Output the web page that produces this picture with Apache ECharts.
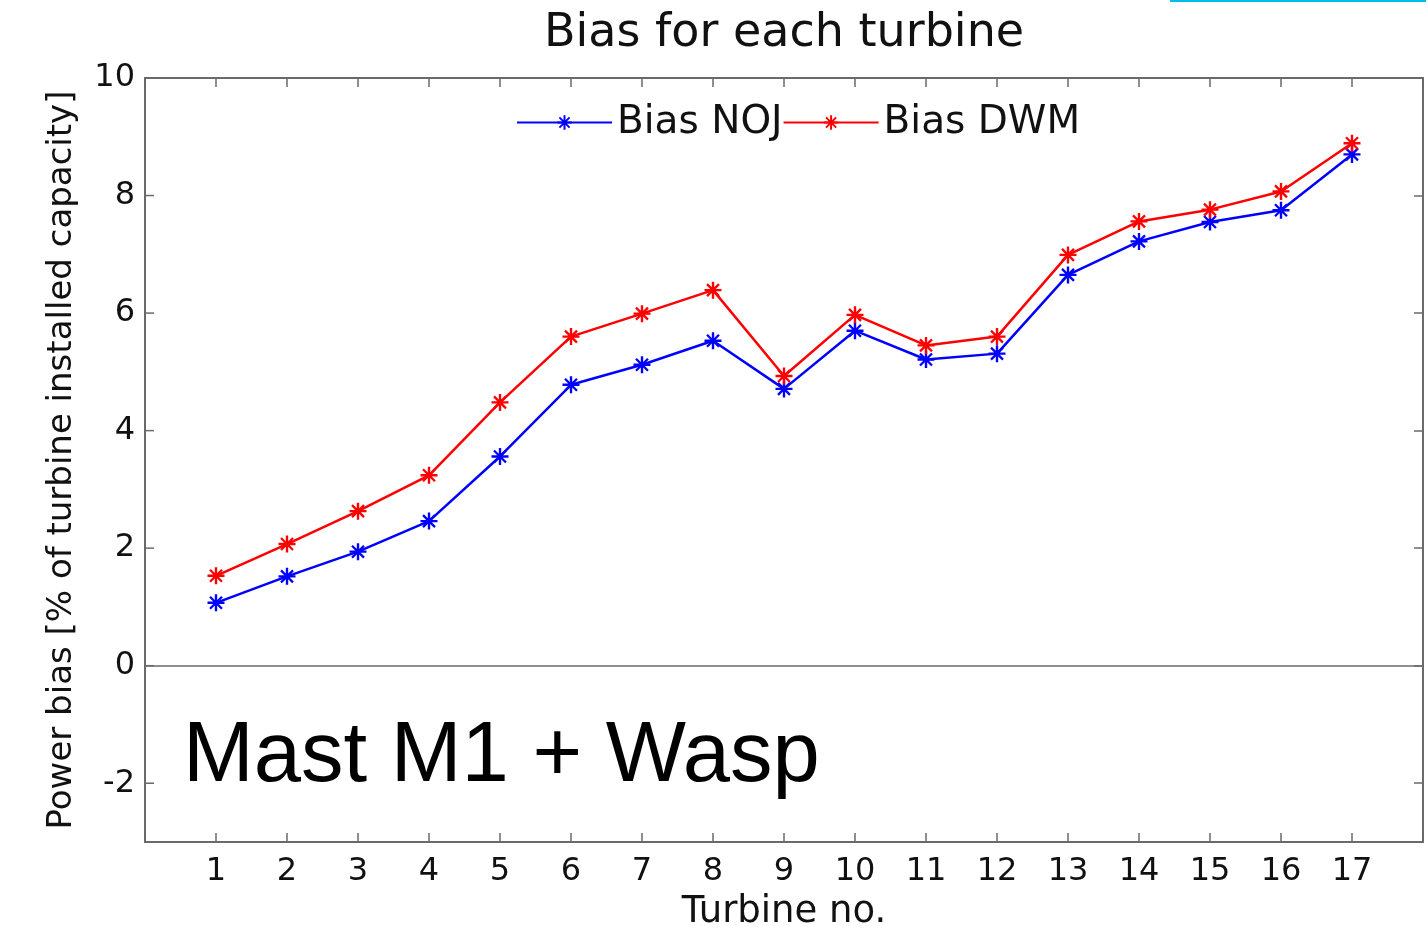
<!DOCTYPE html>
<html>
<head>
<meta charset="utf-8">
<script src="https://cdn.jsdelivr.net/npm/echarts@6/dist/echarts.min.js"></script>
<style>html,body{margin:0;padding:0;background:#fff}#c{width:1426px;height:927px}</style>
</head>
<body>
<div id="c"></div>
<script>
const turbines = [1,2,3,4,5,6,7,8,9,10,11,12,13,14,15,16,17];
const biasNOJ = [1.07,1.52,1.94,2.46,3.56,4.78,5.12,5.53,4.71,5.70,5.21,5.31,6.65,7.22,7.55,7.75,8.70];
const biasDWM = [1.53,2.07,2.63,3.24,4.48,5.60,5.99,6.39,4.93,5.97,5.45,5.60,6.99,7.56,7.76,8.07,8.89];
const yTicks = [-2,0,2,4,6,8,10];
const seriesNames = ['Bias NOJ','Bias DWM'];

const FONT = 'DejaVu Sans';
const axisGray = '#6a6a6a';
const star = 'path://M0 8.6L20 8.6L20 11.4L0 11.4Z M8.6 0L11.4 0L11.4 20L8.6 20Z M3.9 2.0L18.0 16.1L16.1 18.0L2.0 3.9Z M16.1 2.0L18.0 3.9L3.9 18.0L2.0 16.1Z';

const chart = echarts.init(document.getElementById('c'), null, {renderer:'canvas'});
const mk = (name, data, color) => ({
  name, type:'line', data: turbines.map((t,i)=>[t,data[i]]),
  symbol: star, symbolSize: 17,
  lineStyle:{color, width:2.5}, itemStyle:{color},
  z: 3
});
const s1 = mk(seriesNames[0], biasNOJ, '#0000ff');
const s2 = mk(seriesNames[1], biasDWM, '#ff0000');
s1.markLine = {silent:true, symbol:'none', label:{show:false},
  lineStyle:{color:axisGray, width:1.5, type:'solid'}, data:[{yAxis:0}], animation:false};

const tickStyle = {show:true, inside:true, length:9, lineStyle:{color:axisGray, width:1.5}};
const lineStyle = {show:true, onZero:false, lineStyle:{color:axisGray, width:2}};

const baseGraphics = [
  {id:'mast', type:'text', left:183, top:715, style:{text:'Mast M1 + Wasp', fontFamily:'Liberation Sans', fontSize:85, fill:'#000'}},
  {id:'cyan', type:'rect', shape:{x:1170, y:0, width:256, height:2}, style:{fill:'#00bfe6'}}
];

chart.setOption({
  animation:false,
  title:{text:'Bias for each turbine', left:539, top:6,
    textStyle:{fontFamily:FONT, fontSize:46, fontWeight:'normal', color:'#111'}},
  legend:{data:seriesNames, left:511, top:98, itemWidth:95, itemHeight:18, itemGap:0,
    textStyle:{fontFamily:FONT, fontSize:39, color:'#111'}},
  grid:{left:145, right:3, top:78, bottom:85, outerBoundsMode:'none'},
  xAxis:[{
    type:'value', min:0, max:18, interval:1,
    name:'Turbine no.', nameLocation:'middle', nameGap:52,
    nameTextStyle:{fontFamily:FONT, fontSize:37, color:'#111'},
    axisLine:lineStyle,
    axisTick:tickStyle,
    axisLabel:{fontFamily:FONT, fontSize:32, color:'#111', margin:14,
      formatter: v => turbines.includes(v) ? String(v) : ''},
    splitLine:{show:false}
  },{
    type:'value', min:0, max:18, interval:1, position:'top',
    axisLine:lineStyle,
    axisTick:tickStyle,
    axisLabel:{show:false}, splitLine:{show:false}
  }],
  yAxis:[{
    type:'value', min:-3, max:10, position:'left',
    name:'Power bias [% of turbine installed capacity]', nameLocation:'middle', nameGap:66, nameRotate:90,
    nameTextStyle:{fontFamily:FONT, fontSize:34, color:'#111'},
    axisLine:lineStyle,
    axisTick:{show:false},
    axisLabel:{fontFamily:FONT, fontSize:32, color:'#111', margin:10, customValues: yTicks},
    splitLine:{show:false}
  },{
    type:'value', min:-3, max:10, position:'right',
    axisLine:lineStyle,
    axisTick:Object.assign({}, tickStyle, {customValues: yTicks}),
    axisLabel:{show:false}, splitLine:{show:false}
  }],
  graphic: baseGraphics,
  series:[s1, s2]
});

// inward ticks on the left frame edge, positioned through the chart's own scale
const leftTicks = yTicks.map((v, i) => {
  const p = chart.convertToPixel({xAxisIndex:0, yAxisIndex:0}, [0, v]);
  return {id:'lt'+i, type:'line', z:10, silent:true,
    shape:{x1:p[0], y1:p[1], x2:p[0]+9, y2:p[1]},
    style:{stroke:axisGray, lineWidth:1.5}};
});
chart.setOption({graphic: baseGraphics.concat(leftTicks)});
</script>
</body>
</html>
